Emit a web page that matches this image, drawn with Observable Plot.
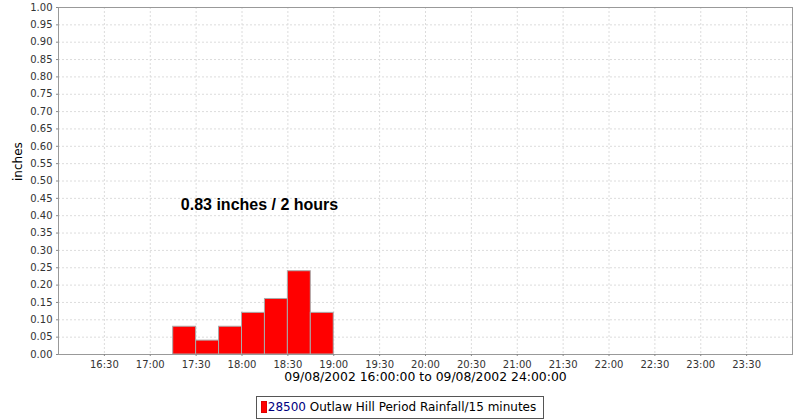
<!DOCTYPE html>
<html>
<head>
<meta charset="utf-8">
<script src="https://cdn.jsdelivr.net/npm/d3@7"></script>
<script src="https://cdn.jsdelivr.net/npm/@observablehq/plot@0.6"></script>
<style>
  body { margin: 0; background: #fff; font-family: "DejaVu Sans", sans-serif; }
  #chart svg { display: block; }
  #legend { text-align: center; margin-top: 4px; line-height: 0; }
  #legend .box {
    display: inline-block; box-sizing: border-box; height: 23px;
    border: 1px solid #555; padding: 0 7px 0 4px;
    font: 12px "DejaVu Sans", sans-serif; line-height: 21px; white-space: nowrap;
  }
  #legend .sw { display: inline-block; width: 6px; height: 12px; background: #ff0000;
    box-sizing: border-box; border: 1px solid #d00; vertical-align: -2px; margin-right: 1px; }
  #legend .id { color: #000080; }
  #legend .name { color: #000; }
</style>
</head>
<body>
<div id="chart"></div>
<div id="legend"></div>
<script>
// ---- data ----
const periodStart = ["17:15", "17:30", "17:45", "18:00", "18:15", "18:30", "18:45"];
const rainfall = [0.08, 0.04, 0.08, 0.12, 0.16, 0.24, 0.12];
const periodMinutes = 15;
const xDomain = ["16:00", "24:00"];
const xTickLabels = ["16:30", "17:00", "17:30", "18:00", "18:30", "19:00", "19:30", "20:00",
  "20:30", "21:00", "21:30", "22:00", "22:30", "23:00", "23:30"];
const yTickValues = [0.00, 0.05, 0.10, 0.15, 0.20, 0.25, 0.30, 0.35, 0.40, 0.45, 0.50,
  0.55, 0.60, 0.65, 0.70, 0.75, 0.80, 0.85, 0.90, 0.95, 1.00];
const xAxisLabel = "09/08/2002 16:00:00 to 09/08/2002 24:00:00";
const yAxisLabel = "inches";
const annotationText = ["0.83 inches / 2 hours"];
const annotationTime = ["17:20"];
const annotationValue = [0.43];
const seriesId = "28500";
const seriesName = "Outlaw Hill Period Rainfall/15 minutes";

// ---- build ----
const toHours = s => { const [h, m] = s.split(":").map(Number); return h + m / 60; };
const bars = periodStart.map((t, i) => ({
  x1: toHours(t), x2: toHours(t) + periodMinutes / 60, y0: 0, y: rainfall[i]
}));
const xTicks = xTickLabels.map(toHours);
const xLabelOf = new Map(xTickLabels.map(s => [toHours(s), s]));
const notes = annotationText.map((t, i) => ({ text: t, x: toHours(annotationTime[i]), y: annotationValue[i] }));
const gridStyle = { stroke: "#dcdcdc", strokeDasharray: "2,2", strokeWidth: 1 };

const chart = Plot.plot({
  width: 800, height: 392,
  marginLeft: 58, marginRight: 8, marginTop: 7, marginBottom: 38,
  style: { fontFamily: "DejaVu Sans, sans-serif", fontSize: "10px", background: "#fff", color: "#000" },
  x: { type: "linear", domain: xDomain.map(toHours) },
  y: { type: "linear", domain: [yTickValues[0], yTickValues[yTickValues.length - 1]] },
  marks: [
    Plot.ruleY(yTickValues.slice(1), gridStyle),
    Plot.ruleX(xTicks, gridStyle),
    Plot.rect(bars, { x1: "x1", x2: "x2", y1: "y0", y2: "y", fill: "#ff0000", stroke: "#aaaaaa", strokeWidth: 1 }),
    Plot.frame({ stroke: "#999" }),
    Plot.axisY(yTickValues, { tickSize: 2, tickPadding: 4, tickFormat: d => d.toFixed(2), stroke: "#888", fill: "#333", label: null }),
    Plot.axisX(xTicks, { tickSize: 2, tickPadding: 4, tickFormat: d => xLabelOf.get(d), stroke: "#888", fill: "#333", label: null }),
    Plot.text([xAxisLabel], { frameAnchor: "bottom", dy: 26, fontSize: 12.4, fill: "#000" }),
    Plot.text([yAxisLabel], { frameAnchor: "left", dx: -40, rotate: -90, fontSize: 12, fill: "#000" }),
    Plot.text(notes, { x: "x", y: "y", text: "text", textAnchor: "start", fontSize: 16, fontWeight: "bold",
      fontFamily: "Liberation Sans, Arial, sans-serif", fill: "#000" })
  ]
});
document.getElementById("chart").append(chart);

const legend = document.getElementById("legend");
legend.innerHTML = `<span class="box"><span class="sw"></span><span class="id"></span><span class="name"></span></span>`;
legend.querySelector(".id").textContent = seriesId;
legend.querySelector(".name").textContent = " " + seriesName;
</script>
</body>
</html>
